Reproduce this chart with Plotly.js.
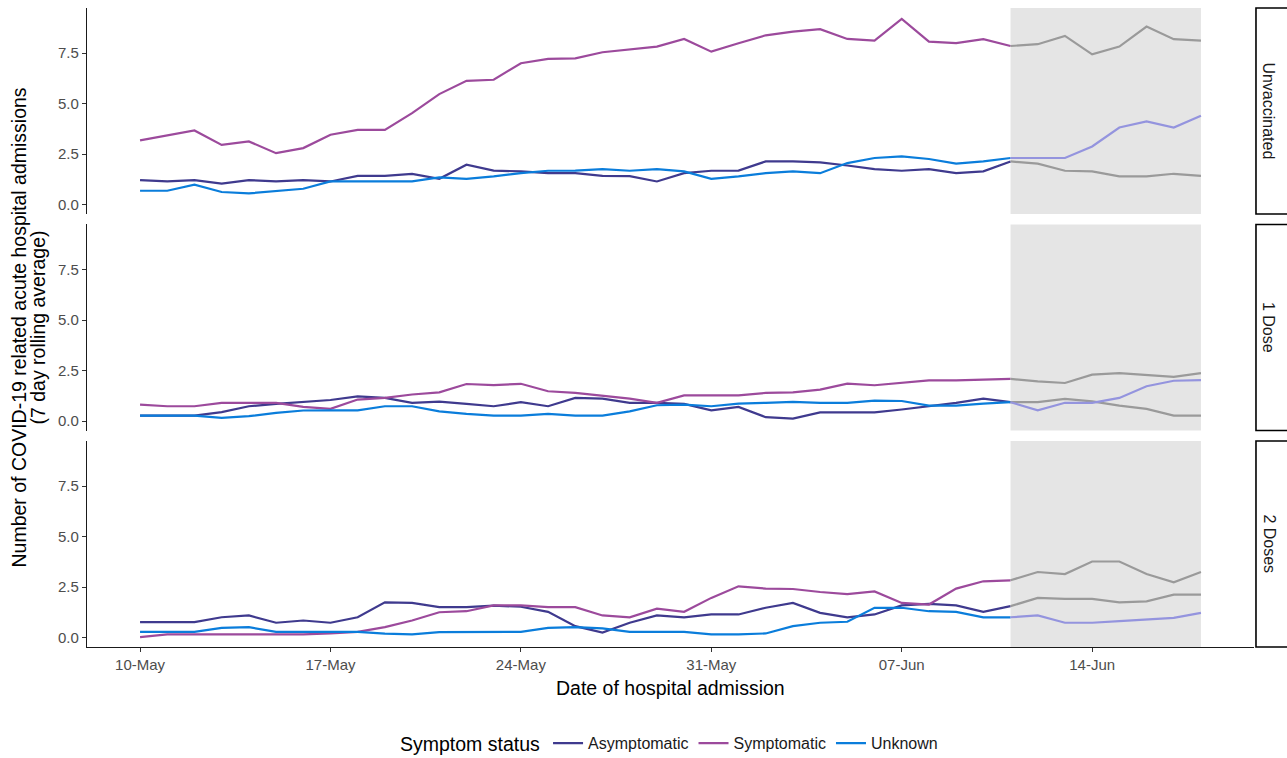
<!DOCTYPE html>
<html>
<head>
<meta charset="utf-8">
<script src="https://cdn.plot.ly/plotly-3.0.1.min.js"></script>
<style>
  html, body { margin: 0; padding: 0; background: #fff; }
  #chart { width: 1287px; height: 758px; }
</style>
</head>
<body>
<div id="chart"></div>
<script>
// Admission dates (daily, 10 May – 18 June 2021)
const dates = [
  '2021-05-10','2021-05-11','2021-05-12','2021-05-13','2021-05-14','2021-05-15','2021-05-16',
  '2021-05-17','2021-05-18','2021-05-19','2021-05-20','2021-05-21','2021-05-22','2021-05-23',
  '2021-05-24','2021-05-25','2021-05-26','2021-05-27','2021-05-28','2021-05-29','2021-05-30',
  '2021-05-31','2021-06-01','2021-06-02','2021-06-03','2021-06-04','2021-06-05','2021-06-06',
  '2021-06-07','2021-06-08','2021-06-09','2021-06-10','2021-06-11','2021-06-12','2021-06-13',
  '2021-06-14','2021-06-15','2021-06-16','2021-06-17','2021-06-18'
];

// Start of the incomplete-data window (shaded)
const shadeStart = '2021-06-11';
const shadeEnd = '2021-06-18';

const symptomStatus = ['Asymptomatic', 'Symptomatic', 'Unknown'];
const vaccinationStatus = ['Unvaccinated', '1 Dose', '2 Doses'];

// 7-day rolling average of admissions — Unvaccinated
const unvaxAsymptomatic = [1.22,1.15,1.22,1.04,1.22,1.15,1.22,1.15,1.43,1.43,1.52,1.28,1.98,1.69,1.65,1.56,1.56,1.43,1.41,1.15,1.56,1.68,1.69,2.14,2.14,2.09,1.94,1.76,1.68,1.76,1.56,1.65,2.14,2.03,1.68,1.65,1.40,1.40,1.53,1.43];
const unvaxSymptomatic  = [3.18,3.41,3.67,2.96,3.13,2.55,2.80,3.46,3.70,3.70,4.53,5.47,6.13,6.18,7.00,7.21,7.24,7.54,7.69,7.82,8.20,7.57,7.99,8.38,8.56,8.68,8.20,8.12,9.19,8.07,7.99,8.19,7.85,7.94,8.35,7.44,7.82,8.81,8.19,8.12];
const unvaxUnknown      = [0.69,0.69,0.99,0.63,0.56,0.69,0.79,1.15,1.15,1.15,1.15,1.35,1.28,1.40,1.56,1.68,1.69,1.76,1.68,1.76,1.65,1.28,1.40,1.56,1.65,1.56,2.06,2.31,2.39,2.26,2.03,2.14,2.31,2.31,2.31,2.88,3.82,4.12,3.82,4.40];

// 1 Dose
const dose1Asymptomatic = [0.28,0.28,0.28,0.45,0.74,0.86,0.97,1.05,1.23,1.15,0.91,0.97,0.86,0.74,0.94,0.74,1.15,1.12,0.91,0.91,0.86,0.54,0.71,0.20,0.13,0.44,0.44,0.44,0.58,0.74,0.91,1.12,0.94,0.94,1.10,0.98,0.77,0.61,0.28,0.28];
const dose1Symptomatic  = [0.82,0.74,0.74,0.91,0.91,0.91,0.71,0.61,1.07,1.15,1.32,1.43,1.84,1.78,1.85,1.48,1.40,1.27,1.12,0.91,1.28,1.28,1.28,1.40,1.43,1.56,1.86,1.78,1.89,2.02,2.02,2.05,2.09,1.97,1.89,2.30,2.38,2.28,2.19,2.38];
const dose1Unknown      = [0.28,0.28,0.28,0.17,0.25,0.41,0.53,0.54,0.54,0.74,0.74,0.49,0.36,0.28,0.28,0.36,0.28,0.28,0.49,0.79,0.82,0.74,0.87,0.91,0.96,0.91,0.91,1.02,1.00,0.77,0.77,0.87,0.94,0.54,0.91,0.91,1.15,1.73,2.00,2.03];

// 2 Doses
const dose2Asymptomatic = [0.77,0.77,0.77,1.01,1.10,0.74,0.85,0.74,1.01,1.75,1.72,1.51,1.51,1.59,1.53,1.28,0.57,0.25,0.74,1.10,1.01,1.15,1.15,1.48,1.72,1.23,1.01,1.15,1.60,1.67,1.60,1.28,1.56,1.97,1.92,1.92,1.75,1.80,2.13,2.13];
const dose2Symptomatic  = [0.03,0.16,0.16,0.16,0.16,0.16,0.16,0.21,0.29,0.52,0.85,1.26,1.31,1.60,1.60,1.51,1.51,1.10,1.01,1.44,1.28,1.97,2.54,2.43,2.41,2.26,2.16,2.29,1.72,1.64,2.43,2.79,2.84,3.25,3.15,3.77,3.77,3.15,2.74,3.25];
const dose2Unknown      = [0.29,0.29,0.29,0.49,0.52,0.29,0.29,0.29,0.29,0.20,0.16,0.28,0.29,0.29,0.29,0.49,0.52,0.46,0.29,0.29,0.29,0.16,0.16,0.21,0.57,0.74,0.79,1.48,1.48,1.31,1.28,1.01,1.01,1.10,0.74,0.74,0.82,0.90,0.98,1.23];

const panels = [
  { yaxis: 'y',  series: [unvaxAsymptomatic, unvaxSymptomatic, unvaxUnknown] },
  { yaxis: 'y2', series: [dose1Asymptomatic, dose1Symptomatic, dose1Unknown] },
  { yaxis: 'y3', series: [dose2Asymptomatic, dose2Symptomatic, dose2Unknown] }
];

const lineColors  = ['#3F3A8E', '#9C4A9C', '#0A7DDB'];
const shadeColors = ['#9A9A9A', '#9A9A9A', '#9494DE'];

const splitIdx = dates.indexOf(shadeStart);
const traces = [];

panels.forEach((p, pi) => {
  p.series.forEach((vals, si) => {
    traces.push({
      type: 'scatter', mode: 'lines',
      x: dates.slice(0, splitIdx + 1), y: vals.slice(0, splitIdx + 1),
      xaxis: 'x', yaxis: p.yaxis,
      name: symptomStatus[si], legendgroup: symptomStatus[si],
      showlegend: pi === 0,
      line: { color: lineColors[si], width: 2.2 },
      hoverinfo: 'x+y+name'
    });
  });
  p.series.forEach((vals, si) => {
    traces.push({
      type: 'scatter', mode: 'lines',
      x: dates.slice(splitIdx), y: vals.slice(splitIdx),
      xaxis: 'x', yaxis: p.yaxis,
      name: symptomStatus[si], legendgroup: symptomStatus[si],
      showlegend: false,
      line: { color: shadeColors[si], width: 2.2 },
      hoverinfo: 'x+y+name'
    });
  });
});

const yTicks = [0, 2.5, 5, 7.5];
const yTickText = ['0.0', '2.5', '5.0', '7.5'];
const yRange = [-0.46, 9.73];
const tickFont = { family: 'Liberation Sans, Arial, sans-serif', size: 15, color: '#4D4D4D' };

function yAxis(domain) {
  return {
    domain: domain, range: yRange, anchor: 'x',
    tickvals: yTicks, ticktext: yTickText,
    ticks: 'outside', ticklen: 4, tickwidth: 1.1, tickcolor: '#333',
    showline: true, linecolor: '#1a1a1a', linewidth: 1.3,
    showgrid: false, zeroline: false,
    tickfont: tickFont, fixedrange: true
  };
}

const domains = [[0.6776, 1], [0.3388, 0.6612], [0, 0.3224]];
const yRefs = ['y', 'y2', 'y3'];

const shapes = [];
const annotations = [];

yRefs.forEach((yr, i) => {
  // grey window for recent, incomplete data
  shapes.push({
    type: 'rect', layer: 'below', xref: 'x', yref: yr + ' domain',
    x0: shadeStart, x1: shadeEnd, y0: 0, y1: 1,
    fillcolor: '#E5E5E5', line: { width: 0 }
  });
  // facet strip on the right
  shapes.push({
    type: 'rect', xref: 'paper', yref: yr + ' domain',
    x0: 1.0017, x1: 1.032, y0: 0, y1: 1,
    fillcolor: '#FFFFFF', line: { color: '#000', width: 1.6 }
  });
  annotations.push({
    xref: 'paper', yref: yr + ' domain', x: 1.0125, y: 0.5,
    text: vaccinationStatus[i], showarrow: false, textangle: 90,
    xanchor: 'center', yanchor: 'middle',
    font: { family: 'Liberation Sans, Arial, sans-serif', size: 16, color: '#1A1A1A' }
  });
});

// y-axis title (two lines)
annotations.push({
  xref: 'paper', yref: 'paper', x: -0.0591, y: 0.5,
  text: 'Number of COVID-19 related acute hospital admissions', showarrow: false, textangle: -90,
  xanchor: 'center', yanchor: 'middle',
  font: { family: 'Liberation Sans, Arial, sans-serif', size: 19.5, color: '#000' }
});
annotations.push({
  xref: 'paper', yref: 'paper', x: -0.0428, y: 0.5,
  text: '(7 day rolling average)', showarrow: false, textangle: -90,
  xanchor: 'center', yanchor: 'middle',
  font: { family: 'Liberation Sans, Arial, sans-serif', size: 19.5, color: '#000' }
});
// x-axis title
annotations.push({
  xref: 'paper', yref: 'paper', x: 0.5, y: -0.0642,
  text: 'Date of hospital admission', showarrow: false,
  xanchor: 'center', yanchor: 'middle',
  font: { family: 'Liberation Sans, Arial, sans-serif', size: 19.5, color: '#000' }
});

const xTicks = ['2021-05-10', '2021-05-17', '2021-05-24', '2021-05-31', '2021-06-07', '2021-06-14'];

const layout = {
  width: 1287, height: 758,
  margin: { l: 87, r: 33, t: 8, b: 111, autoexpand: false },
  paper_bgcolor: '#fff', plot_bgcolor: 'rgba(0,0,0,0)',
  font: { family: 'Liberation Sans, Arial, sans-serif' },
  showlegend: true,
  legend: {
    orientation: 'h', x: 0.5, xanchor: 'center', y: -0.152, yanchor: 'middle',
    title: { text: 'Symptom status', side: 'left', font: { size: 19.5, color: '#000' } },
    font: { size: 16, color: '#1A1A1A' },
    itemwidth: 30, tracegroupgap: 0
  },
  xaxis: {
    type: 'date', anchor: 'y3',
    range: ['2021-05-08 01:12', '2021-06-19 22:48'],
    tickvals: xTicks, tickformat: '%d-%b',
    ticks: 'outside', ticklen: 4, tickwidth: 1.1, tickcolor: '#333',
    showline: true, linecolor: '#1a1a1a', linewidth: 1.3,
    showgrid: false, zeroline: false,
    tickfont: tickFont, fixedrange: true
  },
  yaxis: yAxis(domains[0]),
  yaxis2: yAxis(domains[1]),
  yaxis3: yAxis(domains[2]),
  shapes: shapes,
  annotations: annotations
};

Plotly.newPlot('chart', traces, layout, { displayModeBar: false, responsive: false });
</script>
</body>
</html>
